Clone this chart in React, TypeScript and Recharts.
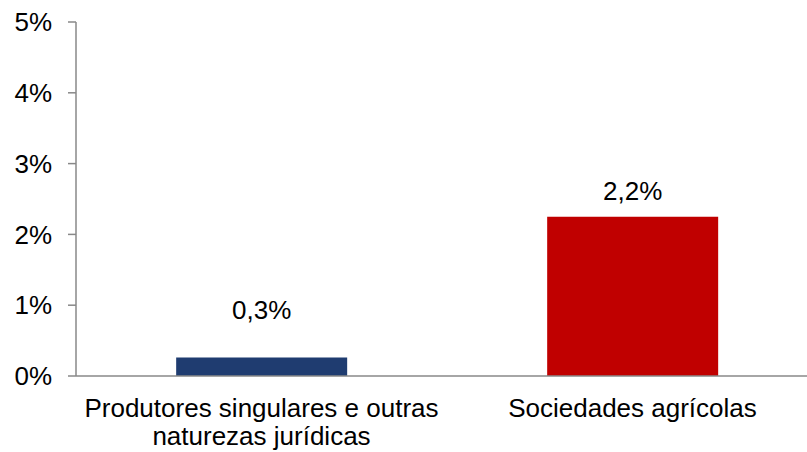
import { Bar, BarChart, Cell, LabelList, XAxis, YAxis } from "recharts"

const categories = ["Produtores singulares e outras naturezas jurídicas", "Sociedades agrícolas"]
const categoryLines = [["Produtores singulares e outras", "naturezas jurídicas"], ["Sociedades agrícolas"]]
const values = [0.26, 2.25]
const valueLabels = ["0,3%", "2,2%"]
const barColors = ["#1F3C70", "#C00000"]
const yTicks = [0, 1, 2, 3, 4, 5]

const data = categories.map((name, i) => ({ name, value: values[i], label: valueLabels[i] }))

const FONT = "'Liberation Sans', Arial, sans-serif"
const AXIS = "#888888"

// label gap above each bar (the source has them placed by hand)
const labelGap = [39, 17]

const CategoryTick = ({ x, y, index }: any) => {
    const lines = categoryLines[index] || []
    return (
        <text x={x} y={y} textAnchor="middle" fill="#000" fontSize={26} fontFamily={FONT}>
            {lines.map((l, i) => (
                <tspan key={i} x={x} y={y + 39 + i * 28}>{l}</tspan>
            ))}
        </text>
    )
}

const ValueLabel = ({ x, y, width, index }: any) => (
    <text
        x={x + width / 2}
        y={y - labelGap[index]}
        textAnchor="middle"
        fill="#000"
        fontSize={26}
        fontFamily={FONT}
    >
        {valueLabels[index]}
    </text>
)

export default function App() {
    return (
        <div style={{ position: "fixed", left: 0, top: 0, width: 807, height: 452, overflow: "hidden", background: "#fff" }}>
            <BarChart width={830} height={452} data={data} margin={{ top: 22, right: 12, left: 0, bottom: 0 }} barCategoryGap="27%">
                {/* boundary axis: line + ticks between categories */}
                <XAxis
                    xAxisId="a-frame"
                    type="number"
                    domain={[0, 2]}
                    ticks={[0, 1, 2]}
                    allowDataOverflow
                    tick={false}
                    tickSize={8}
                    height={2}
                    stroke={AXIS}
                    axisLine={{ stroke: AXIS, strokeWidth: 1.5 }}
                    tickLine={{ stroke: AXIS, strokeWidth: 1.5 }}
                />
                <XAxis
                    xAxisId="b-cat"
                    dataKey="name"
                    height={74}
                    axisLine={false}
                    tickLine={false}
                    tickSize={0}
                    tickMargin={0}
                    interval={0}
                    tick={<CategoryTick />}
                />
                <YAxis
                    domain={[0, 5]}
                    ticks={yTicks}
                    width={76}
                    tickSize={8}
                    tickMargin={16}
                    tickFormatter={(v) => `${v}%`}
                    tick={{ fill: "#000", fontSize: 26, fontFamily: FONT }}
                    axisLine={{ stroke: AXIS, strokeWidth: 1.5 }}
                    tickLine={{ stroke: AXIS, strokeWidth: 1.5 }}
                />
                <Bar dataKey="value" xAxisId="b-cat" isAnimationActive={false}>
                    {data.map((d, i) => (
                        <Cell key={d.name} fill={barColors[i]} />
                    ))}
                    <LabelList dataKey="label" content={<ValueLabel />} />
                </Bar>
            </BarChart>
        </div>
    )
}
